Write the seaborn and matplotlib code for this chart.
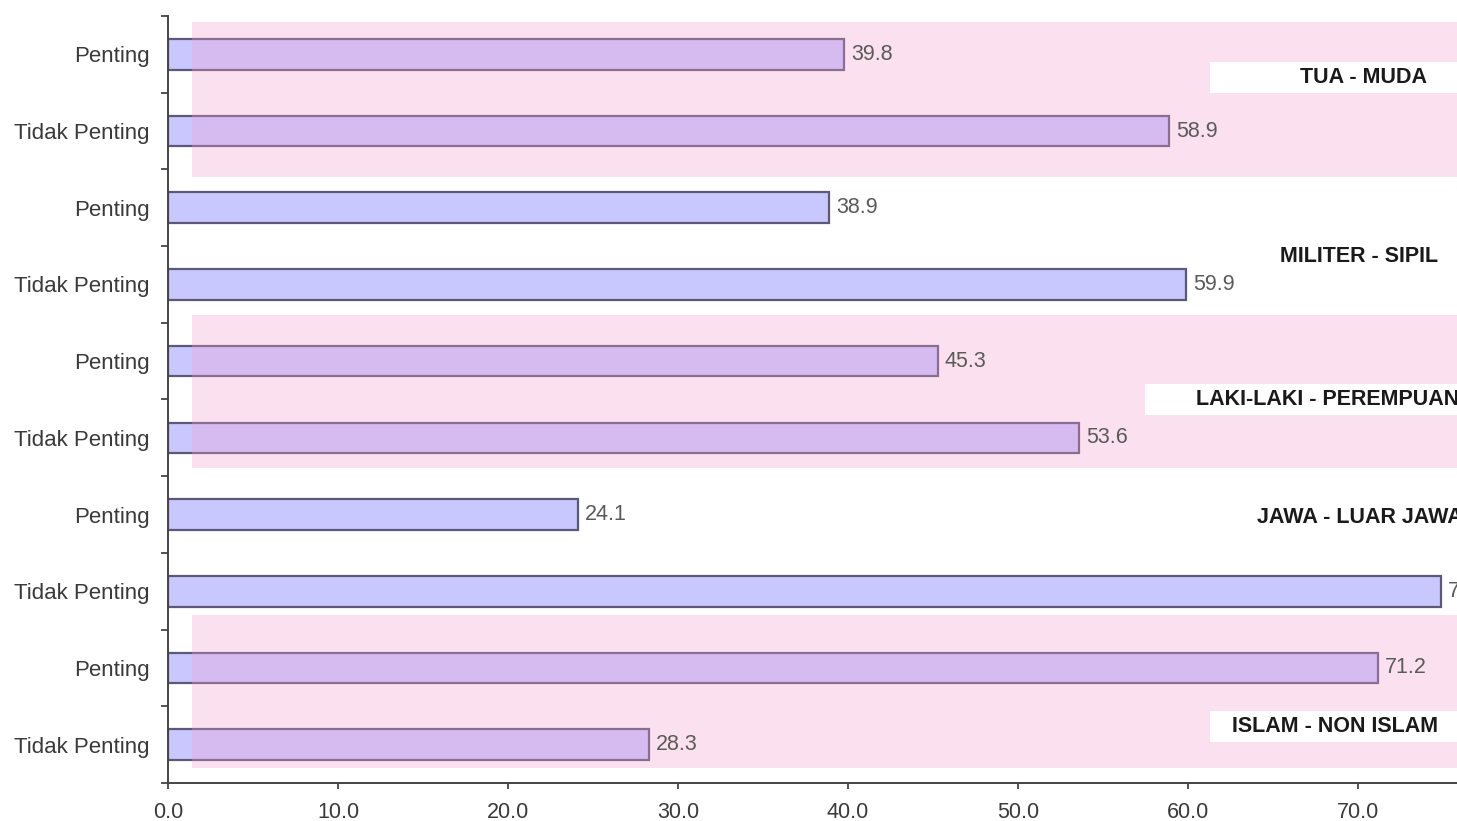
import numpy as np
import pandas as pd
import seaborn as sns
import matplotlib.pyplot as plt
from matplotlib.patches import Rectangle
from matplotlib.ticker import FormatStrFormatter, FixedLocator

# Row labels (top to bottom) and their percentages
row_labels = ["Penting", "Tidak Penting", "Penting", "Tidak Penting", "Penting",
              "Tidak Penting", "Penting", "Tidak Penting", "Penting", "Tidak Penting"]
values = [39.8, 58.9, 38.9, 59.9, 45.3, 53.6, 24.1, 74.9, 71.2, 28.3]

# Comparison groups, each covering two consecutive rows
group_names = ["TUA - MUDA", "MILITER - SIPIL", "LAKI-LAKI - PEREMPUAN",
               "JAWA - LUAR JAWA", "ISLAM - NON ISLAM"]
group_label_x = [66.6, 65.4, 60.5, 64.1, 62.6]
group_label_y = [0.30, 2.63, 4.50, 6.04, 8.76]
group_box_x = [61.3, None, 57.5, None, 61.3]

# Shaded bands (row-unit extents) for alternating groups
band_tops = [-0.42, 3.40, 7.31]
band_bottoms = [1.60, 5.39, 9.30]

x_ticks = [0, 10, 20, 30, 40, 50, 60, 70]
x_max = 75.84

sns.set_theme(style="white")
plt.rcParams["font.family"] = ["Liberation Sans", "DejaVu Sans"]

df = pd.DataFrame({
    "row": [f"r{i}" for i in range(len(values))],
    "value": values,
})

fig = plt.figure(figsize=(14.57, 8.21), dpi=100)
ax = fig.add_axes([0.1153, 0.0463, 0.8847, 0.9342])

sns.barplot(data=df, x="value", y="row", orient="h", width=0.4,
            color="#c8c8ff", saturation=1, edgecolor="#5e5878",
            linewidth=1.6, ax=ax, zorder=2)

ax.set_xlim(0, x_max)
ax.set_ylim(len(values) - 0.5, -0.5)

# Translucent pink bands over alternating groups
band_x0 = 1.4
for top, bottom in zip(band_tops, band_bottoms):
    ax.add_patch(Rectangle((band_x0, top), x_max - band_x0, bottom - top,
                           facecolor=(245 / 255, 158 / 255, 208 / 255),
                           alpha=0.3, edgecolor="none", zorder=3))

# Group captions on white strips
for name, tx, ty, bx in zip(group_names, group_label_x, group_label_y, group_box_x):
    if bx is not None:
        ax.add_patch(Rectangle((bx, ty - 0.2), x_max - bx, 0.4,
                               facecolor="white", edgecolor="none", zorder=4))
    ax.text(tx, ty, name, ha="left", va="center", fontsize=15.5,
            fontweight="bold", color="#1a1a1a", zorder=5, clip_on=False)

# Value labels at bar ends
ax.bar_label(ax.containers[0], fmt="%.1f", padding=5, fontsize=15.5,
             color="#5a5a5a", zorder=6)

# Axis styling
ax.set_xlabel("")
ax.set_ylabel("")
ax.set_yticks(range(len(values)))
ax.set_yticklabels(row_labels, fontsize=16, color="#3a3a3a")
ax.yaxis.set_minor_locator(FixedLocator(np.arange(-0.5, len(values), 1.0)))
ax.tick_params(axis="y", which="major", length=0, pad=13)
ax.tick_params(axis="y", which="minor", left=True, length=5, width=1.3,
               color="#444444", direction="out")

ax.set_xticks(x_ticks)
ax.xaxis.set_major_formatter(FormatStrFormatter("%.1f"))
ax.tick_params(axis="x", which="major", bottom=True, length=4.5, width=1.3,
               color="#444444", direction="out", pad=9, labelsize=15.5,
               labelcolor="#3a3a3a")

for side in ["top", "right"]:
    ax.spines[side].set_visible(False)
for side in ["left", "bottom"]:
    ax.spines[side].set_color("#444444")
    ax.spines[side].set_linewidth(1.4)

fig.savefig("out.png", dpi=100)
